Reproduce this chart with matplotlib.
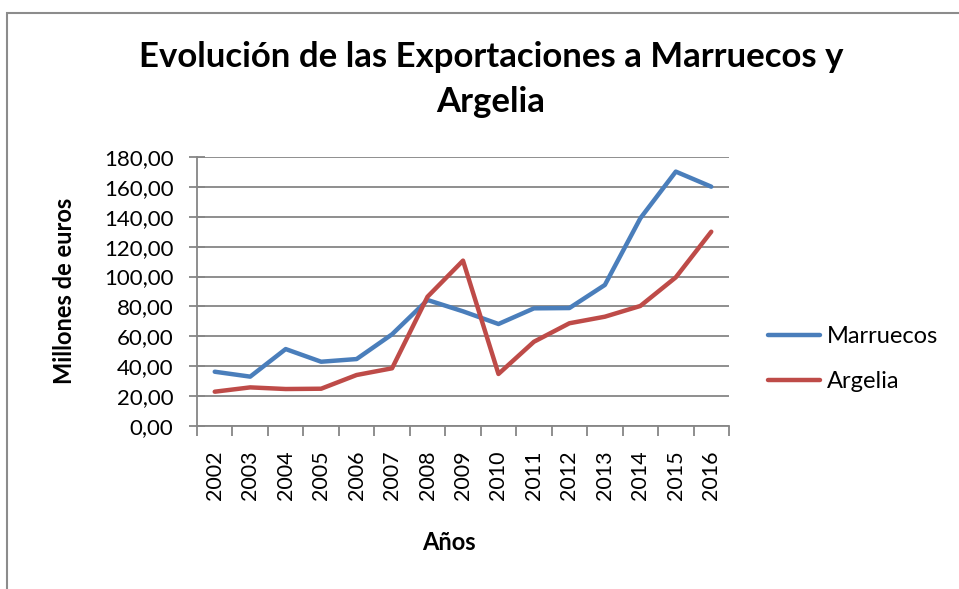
import matplotlib
matplotlib.use("Agg")
import matplotlib.pyplot as plt
from matplotlib.patches import Rectangle
from matplotlib.ticker import FuncFormatter

years = ["2002", "2003", "2004", "2005", "2006", "2007", "2008", "2009",
         "2010", "2011", "2012", "2013", "2014", "2015", "2016"]
marruecos = [36.2, 32.9, 51.4, 42.9, 44.7, 61.3, 84.3, 76.7, 68.2, 78.7,
             78.9, 94.4, 139.1, 170.4, 160.3]
argelia = [22.8, 25.7, 24.6, 24.8, 34.0, 38.5, 86.5, 110.7, 34.7, 56.3,
           68.7, 73.1, 80.3, 99.5, 130.1]

plt.rcParams['font.family'] = ['Lato', 'DejaVu Sans']

W, H = 959, 589
fig = plt.figure(figsize=(W / 100, H / 100), dpi=100)

# outer chart border (cropped on right and bottom)
fig.patches.append(Rectangle((7 / W, -0.1), 1.2, 1 - 13 / H + 0.1,
                             transform=fig.transFigure, fill=False,
                             edgecolor='#8c8c8c', linewidth=1.5))

ax = fig.add_axes([197 / W, 1 - 425.7 / H, (729 - 197) / W, (425.7 - 157.3) / H])

x = list(range(len(years)))
ax.plot(x, marruecos, color='#4A7EBB', linewidth=3.2, solid_capstyle='round',
        solid_joinstyle='round', label='Marruecos', zorder=3)
ax.plot(x, argelia, color='#BE4B48', linewidth=3.2, solid_capstyle='round',
        solid_joinstyle='round', label='Argelia', zorder=3)

ax.set_xlim(-0.5, len(years) - 0.5)
ax.set_ylim(0, 180)
ax.set_yticks(range(0, 181, 20))
ax.yaxis.set_major_formatter(FuncFormatter(lambda v, p: f"{v:.2f}".replace('.', ',')))
ax.set_xticks(x)
ax.set_xticklabels(years, rotation=90)
ax.set_xticks([i - 0.5 for i in range(len(years) + 1)], minor=True)
ax.tick_params(axis='x', which='major', length=0, pad=18, labelsize=15.5)
ax.tick_params(axis='x', which='minor', length=7, width=1.3, color='#868686', direction='out')
ax.tick_params(axis='y', length=12, width=1.3, color='#868686', direction='inout',
               labelsize=16, pad=11)

ax.grid(axis='y', color='#868686', linewidth=1.3)
ax.set_axisbelow(True)
for s in ['top', 'right']:
    ax.spines[s].set_visible(False)
for s in ['left', 'bottom']:
    ax.spines[s].set_color('#868686')
    ax.spines[s].set_linewidth(1.3)

fig.text(491 / W, 1 - 57 / H, "Evolución de las Exportaciones a Marruecos y",
         ha='center', va='center', fontsize=25, fontweight='bold')
fig.text(491 / W, 1 - 102 / H, "Argelia", ha='center', va='center',
         fontsize=25, fontweight='bold')
fig.text(64 / W, 1 - 291 / H, "Millones de euros", rotation=90, ha='center',
         va='center', fontsize=17, fontweight='bold')
fig.text(449 / W, 1 - 543 / H, "Años", ha='center', va='center', fontsize=17,
         fontweight='bold')

ax.legend(loc='center left', bbox_to_anchor=(768 / W, 1 - 359 / H),
          bbox_transform=fig.transFigure, frameon=False, fontsize=17,
          handlelength=2.2, handletextpad=0.3, labelspacing=1.0,
          borderaxespad=0, borderpad=0)

fig.savefig("out.png", dpi=100)
